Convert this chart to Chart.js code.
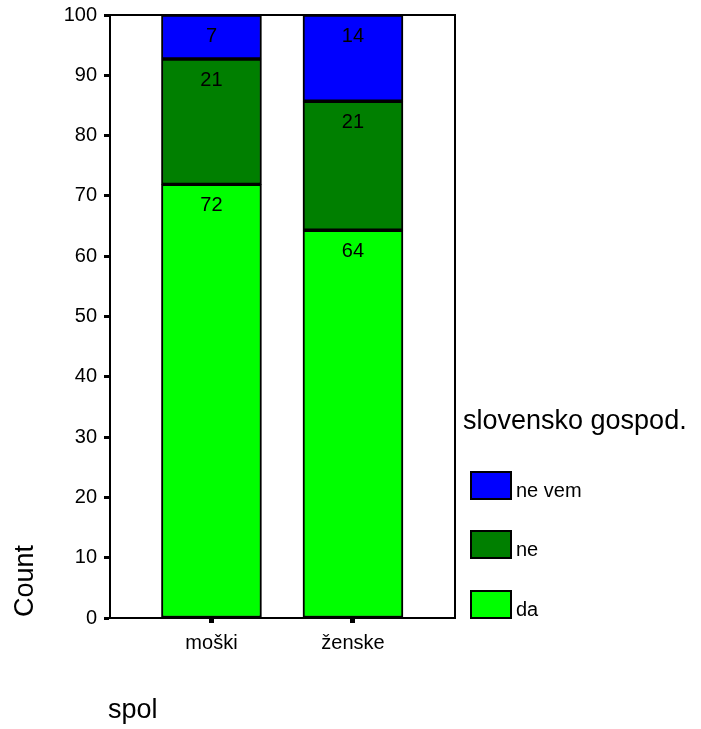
<!DOCTYPE html>
<html>
<head>
<meta charset="utf-8">
<script src="https://cdn.jsdelivr.net/npm/chart.js@4/dist/chart.umd.min.js"></script>
<style>
  body { margin: 0; background: #fff; }
  #wrap { width: 701px; height: 729px; }
</style>
</head>
<body>
<div id="wrap"><canvas id="myChart" width="701" height="729"></canvas></div>
<script>
const categories = ['moški', 'ženske'];
const seriesNames = ['da', 'ne', 'ne vem'];
const daValues = [71.9, 64.3];
const neValues = [20.8, 21.4];
const neVemValues = [7.3, 14.3];
const yTicks = [0, 10, 20, 30, 40, 50, 60, 70, 80, 90, 100];
const colors = ['#00ff00', '#007f00', '#0000ff'];

const font = 'Liberation Sans, Arial, sans-serif';

const toPoints = (vals) => vals.map((v, i) => ({ x: i, y: v }));

const data = {
  datasets: [daValues, neValues, neVemValues].map((vals, i) => ({
    label: seriesNames[i],
    data: toPoints(vals),
    backgroundColor: colors[i],
    borderColor: '#000',
    borderWidth: 2,
    borderSkipped: false,
    barThickness: 100,
  })),
};

// numbers near the top of each segment
const segLabels = {
  id: 'segLabels',
  afterDatasetsDraw(chart) {
    const ctx = chart.ctx;
    ctx.save();
    ctx.font = '20px ' + font;
    ctx.fillStyle = '#000';
    ctx.textAlign = 'center';
    ctx.textBaseline = 'middle';
    chart.data.datasets.forEach((ds, di) => {
      chart.getDatasetMeta(di).data.forEach((el, i) => {
        ctx.fillText(Math.round(ds.data[i].y), el.x, el.y + 21);
      });
    });
    ctx.restore();
  },
};

// box, axis titles and legend like the SPSS output
const frame = {
  id: 'frame',
  afterDraw(chart) {
    const ctx = chart.ctx;
    const a = chart.chartArea;
    ctx.save();
    ctx.strokeStyle = '#000';
    ctx.lineWidth = 2;
    ctx.strokeRect(a.left, a.top, a.right - a.left, a.bottom - a.top);

    ctx.fillStyle = '#000';
    ctx.font = '27px ' + font;
    // y title
    ctx.save();
    ctx.translate(33, 581);
    ctx.rotate(-Math.PI / 2);
    ctx.textAlign = 'center';
    ctx.textBaseline = 'alphabetic';
    ctx.fillText('Count', 0, 0);
    ctx.restore();
    // x title
    ctx.textAlign = 'left';
    ctx.textBaseline = 'alphabetic';
    ctx.fillText('spol', 108, 718);
    // legend
    ctx.fillText('slovensko gospod.', 463, 429);
    ctx.font = '20px ' + font;
    const boxTops = [472, 531, 591];
    const order = [2, 1, 0];
    order.forEach((di, k) => {
      const ds = chart.data.datasets[di];
      ctx.fillStyle = ds.backgroundColor;
      ctx.fillRect(471, boxTops[k], 40, 27);
      ctx.strokeRect(471, boxTops[k], 40, 27);
      ctx.fillStyle = '#000';
      ctx.fillText(ds.label, 516, boxTops[k] + 25);
    });
    ctx.restore();
  },
};

const ctx = document.getElementById('myChart').getContext('2d');
window.myChart = new Chart(ctx, {
  type: 'bar',
  data,
  options: {
    responsive: false,
    animation: false,
    layout: { padding: { top: 15, right: 246, left: 0, bottom: 0 } },
    plugins: { legend: { display: false }, tooltip: { enabled: false } },
    scales: {
      x: {
        type: 'linear',
        stacked: true,
        offset: false,
        min: -0.717,
        max: 1.721,
        afterBuildTicks: (s) => { s.ticks = categories.map((c, i) => ({ value: i })); },
        afterFit: (s) => { s.height = 111; s.paddingLeft = 0; s.paddingRight = 0; },
        ticks: {
          callback: (v) => categories[v],
          color: '#000',
          font: { family: font, size: 20 },
          padding: 8,
          maxRotation: 0,
        },
        grid: { offset: false, drawOnChartArea: false, tickLength: 5, tickWidth: 5, tickColor: '#000' },
        border: { color: '#000', width: 2 },
      },
      y: {
        stacked: true,
        min: 0,
        max: 100,
        afterBuildTicks: (s) => { s.ticks = yTicks.map((v) => ({ value: v })); },
        afterFit: (s) => { s.width = 110; s.paddingTop = 0; s.paddingBottom = 0; },
        ticks: {
          color: '#000',
          font: { family: font, size: 20 },
          padding: 7,
        },
        grid: { drawOnChartArea: false, tickLength: 6, tickWidth: 3, tickColor: '#000' },
        border: { color: '#000', width: 2 },
      },
    },
  },
  plugins: [segLabels, frame],
});
</script>
</body>
</html>
